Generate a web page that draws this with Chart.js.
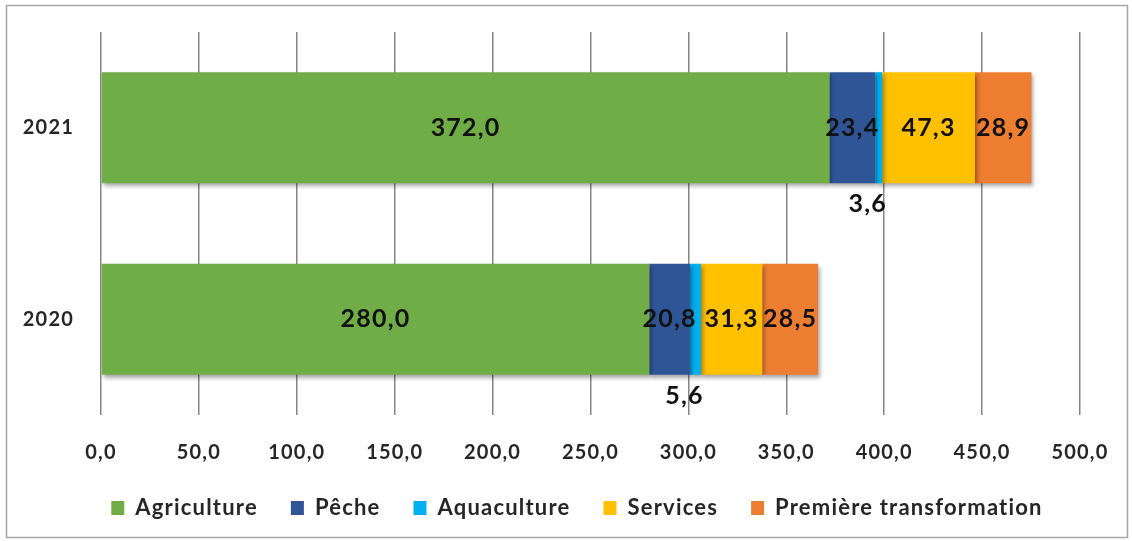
<!DOCTYPE html>
<html>
<head>
<meta charset="utf-8">
<script src="https://cdn.jsdelivr.net/npm/chart.js@4/dist/chart.umd.min.js"></script>
<style>
  html, body { margin: 0; padding: 0; background: #ffffff; }
  #wrap { width: 1132px; height: 541px; }
</style>
</head>
<body>
<div id="wrap"><canvas id="c" width="1132" height="541"></canvas></div>
<script>
const categories = ['2021', '2020'];
const seriesNames = ['Agriculture', 'Pêche', 'Aquaculture', 'Services', 'Première transformation'];
const agriculture = [372.0, 280.0];
const peche = [23.4, 20.8];
const aquaculture = [3.6, 5.6];
const services = [47.3, 31.3];
const premiere = [28.9, 28.5];
const xMin = 0, xMax = 500, xStep = 50;

const fmt = v => Number(v).toFixed(1).replace('.', ',');
const FONT = 'Lato';
const TEXT = '#262626';
const SPACING = '1.2px';

const spacingPlugin = {
  id: 'spacing',
  beforeUpdate(chart) { chart.ctx.letterSpacing = SPACING; },
  beforeDraw(chart) { chart.ctx.letterSpacing = SPACING; }
};

const legendShiftPlugin = {
  id: 'legendShift',
  afterLayout(chart) {
    if (chart.legend) { chart.legend.left = 74; }
  }
};

const framePlugin = {
  id: 'frame',
  beforeDraw(chart) {
    const ctx = chart.ctx;
    ctx.save();
    ctx.fillStyle = '#ffffff';
    ctx.fillRect(0, 0, chart.width, chart.height);
    ctx.strokeStyle = '#a6a6a6';
    ctx.lineWidth = 1.5;
    ctx.strokeRect(6.5, 5.5, 1121, 532);
    ctx.restore();
  }
};

const shadowPlugin = {
  id: 'shadow',
  beforeDatasetsDraw(chart) {
    const ctx = chart.ctx;
    ctx.save();
    ctx.shadowColor = 'rgba(0,0,0,0.35)';
    ctx.shadowBlur = 4;
    ctx.shadowOffsetX = 2;
    ctx.shadowOffsetY = 3;
  },
  afterDatasetsDraw(chart) { chart.ctx.restore(); }
};

const labelPlugin = {
  id: 'valueLabels',
  afterDatasetsDraw(chart) {
    const ctx = chart.ctx;
    ctx.save();
    ctx.letterSpacing = SPACING;
    ctx.font = 'bold 25px ' + FONT;
    ctx.fillStyle = '#111111';
    ctx.textAlign = 'center';
    ctx.textBaseline = 'middle';
    chart.data.datasets.forEach((ds, di) => {
      const meta = chart.getDatasetMeta(di);
      meta.data.forEach((bar, i) => {
        let x = (bar.x + bar.base) / 2;
        let y = bar.y;
        if (ds.labelBelow) {
          y = bar.y + bar.height / 2 + 21;
          x = x - 11;
        }
        ctx.fillText(fmt(ds.data[i]), x, y);
      });
    });
    ctx.restore();
  }
};

const colors = ['#70AD47', '#2F5597', '#00B0F0', '#FFC000', '#ED7D31'];
const values = [agriculture, peche, aquaculture, services, premiere];

const datasets = seriesNames.map((name, k) => ({
  label: name,
  data: values[k],
  backgroundColor: colors[k],
  borderWidth: 0,
  barPercentage: 0.58,
  categoryPercentage: 1.0,
  labelBelow: name === 'Aquaculture'
}));

function build() {
  new Chart(document.getElementById('c'), {
    type: 'bar',
    data: { labels: categories, datasets },
    options: {
      indexAxis: 'y',
      responsive: false,
      animation: false,
      events: [],
      layout: { padding: { left: 0, right: 52, top: 32, bottom: 12 } },
      scales: {
        x: {
          stacked: true,
          min: xMin, max: xMax,
          position: 'bottom',
          ticks: {
            stepSize: xStep,
            padding: 6,
            color: TEXT,
            font: { family: FONT, size: 20, weight: 'bold' },
            callback: v => fmt(v)
          },
          grid: { color: '#858585', lineWidth: 1.5, drawTicks: true, tickLength: 20, tickColor: 'rgba(0,0,0,0)' },
          border: { display: false },
          afterFit: a => { a.height = 49; }
        },
        y: {
          stacked: true,
          ticks: {
            padding: 18,
            color: TEXT,
            font: { family: FONT, size: 20, weight: 'bold' }
          },
          grid: { display: false, drawTicks: true, tickLength: 9 },
          border: { display: false },
          afterFit: a => { a.width = 101; }
        }
      },
      plugins: {
        tooltip: { enabled: false },
        legend: {
          position: 'bottom',
          labels: {
            boxWidth: 13,
            boxHeight: 14,
            padding: 33,
            color: TEXT,
            font: { family: FONT, size: 22, weight: 'bold' }
          }
        }
      }
    },
    plugins: [spacingPlugin, legendShiftPlugin, framePlugin, shadowPlugin, labelPlugin]
  });
}

if (document.fonts && document.fonts.load) {
  Promise.all([
    document.fonts.load('bold 20px Lato'),
    document.fonts.load('20px Lato')
  ]).then(build, build);
} else {
  build();
}
</script>
</body>
</html>
